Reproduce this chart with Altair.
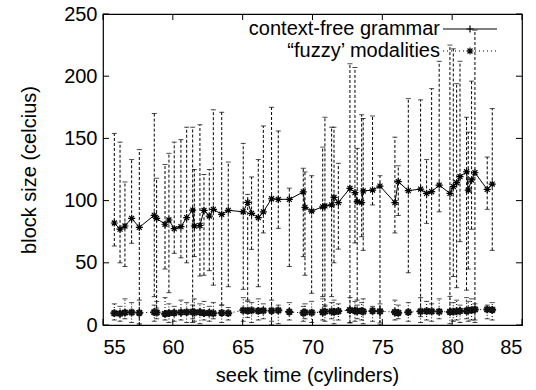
import altair as alt
import pandas as pd

# ---- data ----
x_vals = [55.81, 56.22, 56.57, 57.05, 57.6, 58.67, 58.84, 59.44, 59.72, 60.1,
          60.58, 60.99, 61.42, 61.54, 61.94, 62.23, 62.61, 62.9, 63.5, 63.97,
          65.04, 65.36, 65.64, 66.12, 66.48, 67.07, 67.55, 68.34, 69.34, 69.46,
          69.94, 70.73, 70.89, 71.37, 71.54, 71.85, 72.68, 73.04, 73.2, 73.52,
          73.63, 74.3, 74.83, 75.9, 76.14, 76.86, 77.74, 78.17, 78.53, 79.07,
          79.84, 80.08, 80.32, 80.56, 81.03, 81.15, 81.39, 81.63, 82.51, 82.87]

cfg_y = [82, 77, 79.6, 85.7, 78.5, 88.2, 85.7, 81, 84.4, 77.4,
         79, 86.3, 92.4, 79.6, 80, 92.2, 87.6, 93, 89, 92.2,
         91, 98.6, 89.8, 86.3, 91, 101.5, 101, 101, 107, 94.6,
         91.6, 95, 95.7, 96.5, 102.6, 98.4, 109.9, 106.4, 99.1, 98.4,
         107.7, 108.5, 111.7, 98.4, 115.2, 108, 109.3, 105.8, 107.2, 112.5,
         105.8, 111.2, 114.4, 119.2, 123.2, 108.5, 116.6, 122.4, 109, 113.3]
cfg_lo = [63.5, 50, 47, 65.7, 0, 22.8, 13.6, 45, 26, 57.6,
          54, 50, 2, 55, 39.4, 40, 43.7, 32, 16, 30.8,
          28.7, 20, 60.8, 30.8, 74, 0, 77.7, 47, 55, 40,
          25.5, 22.8, 15, 22.8, 50, 61, 1.6, 66, 20, 71,
          60, 96.5, 1.6, 74, 88, 42, 6.7, 81.7, 12, 91,
          12, 39, 30, 67, 28, 45, 77, 4, 93, 60]
cfg_hi = [154, 147, 115, 133, 141, 170, 118, 129, 138, 147,
          149, 159, 159, 125, 161, 121, 125, 173, 171, 131,
          146, 105, 119, 133, 160, 175, 156, 110, 126, 123,
          120, 143, 167, 159, 159, 130, 210, 207, 142, 169,
          166, 168, 120, 151, 128, 182, 181, 133, 190, 212,
          225, 222, 194, 212, 167, 155, 196, 237, 135, 174]

fz_y = [9.5, 9.2, 10, 10.2, 9.8, 10.3, 10, 9, 9.6, 9.8,
        10.2, 10.4, 10.6, 10, 10.3, 9.6, 9.8, 9.4, 9.8, 9.5,
        11.8, 11.5, 11.8, 11.3, 11.6, 11.5, 11.8, 10.5, 9.8, 10.2,
        10, 10.4, 10.8, 11, 10.5, 11.2, 12, 11.5, 11.2, 11.3,
        10.8, 11.3, 11, 10.4, 9.8, 10.3, 11, 11.2, 11, 10.8,
        10.5, 10.8, 11, 11.3, 11.4, 11.8, 12, 12.5, 12.5, 12.2]
fz_lo = [4, 3, 5, 2, 1, 3, 5, 4, 2, 3,
         4, 2, 5, 3, 1, 4, 3, 5, 2, 4,
         3, 6, 2, 4, 5, 3, 1, 4, 3, 5,
         2, 4, 3, 5, 1, 4, 2, 3, 5, 4,
         1, 3, 0, 4, 5, 3, 2, 4, 3, 5,
         1, 3, 4, 2, 5, 3, 4, 2, 5, 4]
fz_hi = [17, 15, 21, 18, 20, 16, 19, 22, 17, 15,
         20, 18, 16, 21, 17, 19, 15, 18, 16, 14,
         22, 19, 18, 21, 17, 20, 16, 18, 15, 17,
         19, 21, 16, 18, 20, 17, 22, 19, 16, 18,
         21, 15, 17, 20, 16, 18, 22, 19, 17, 21,
         23, 18, 20, 16, 22, 19, 21, 17, 16, 18]

x_ticks = [55, 60, 65, 70, 75, 80, 85]
y_ticks = [0, 50, 100, 150, 200, 250]
labels = ["context-free grammar", "\u201cfuzzy\u2019 modalities"]

# ---- chart ----
W, H = 419, 311
FONT = "Liberation Sans"
TL = 6  # inner tick length

df1 = pd.DataFrame({"x": x_vals, "y": cfg_y, "lo": cfg_lo, "hi": cfg_hi})
df2 = pd.DataFrame({"x": x_vals, "y": fz_y, "lo": fz_lo, "hi": fz_hi})
dfx = pd.DataFrame({"t": x_ticks})
dfy = pd.DataFrame({"t": y_ticks})

xs = alt.Scale(domain=[55, 85], nice=False, zero=False)
ys = alt.Scale(domain=[0, 250], nice=False)

XAX = alt.Axis(values=x_ticks, title="seek time (cylinders)", tickSize=0,
               domain=False, grid=False, labelPadding=12, titlePadding=8,
               titleX=204,
               labelFontSize=20, titleFontSize=20, labelFont=FONT,
               titleFont=FONT, titleFontWeight="normal",
               labelColor="black", titleColor="black")
YAX = alt.Axis(values=y_ticks, title="block size (celcius)", tickSize=0,
               domain=False, grid=False, labelPadding=6, titlePadding=24,
               labelFontSize=20, titleFontSize=20, labelFont=FONT,
               titleFont=FONT, titleFontWeight="normal",
               labelColor="black", titleColor="black")

ASTER = "M-1,0L1,0M0,-1L0,1M-0.7,-0.7L0.7,0.7M-0.7,0.7L0.7,-0.7"
PLUS = "M-1,0L1,0M0,-1L0,1"


def X(f):
    return alt.X(f, scale=xs, axis=XAX)


def Y(f):
    return alt.Y(f, scale=ys, axis=YAX)


# inside ticks on all four sides
tb = alt.Chart(dfx).mark_rule(color="black", strokeWidth=1).encode(
    x=X("t:Q"), y=alt.value(H), y2=alt.value(H - TL))
tt = alt.Chart(dfx).mark_rule(color="black", strokeWidth=1).encode(
    x=X("t:Q"), y=alt.value(0), y2=alt.value(TL))
tl = alt.Chart(dfy).mark_rule(color="black", strokeWidth=1).encode(
    y=Y("t:Q"), x=alt.value(0), x2=alt.value(TL))
tr = alt.Chart(dfy).mark_rule(color="black", strokeWidth=1).encode(
    y=Y("t:Q"), x=alt.value(W - TL), x2=alt.value(W))

# series 1: context-free grammar
e1 = alt.Chart(df1).mark_rule(color="black", strokeWidth=1, strokeDash=[3, 2]).encode(
    x=X("x:Q"), y=Y("lo:Q"), y2="hi:Q")
c1a = alt.Chart(df1).mark_tick(color="black", orient="horizontal", size=5, thickness=1).encode(
    x=X("x:Q"), y=Y("lo:Q"))
c1b = alt.Chart(df1).mark_tick(color="black", orient="horizontal", size=5, thickness=1).encode(
    x=X("x:Q"), y=Y("hi:Q"))
l1 = alt.Chart(df1).mark_line(color="black", strokeWidth=1).encode(x=X("x:Q"), y=Y("y:Q"))
p1 = alt.Chart(df1).mark_point(shape=ASTER, size=50, color="black", strokeWidth=1.2,
                               filled=False, opacity=1).encode(x=X("x:Q"), y=Y("y:Q"))

# series 2: fuzzy modalities
e2 = alt.Chart(df2).mark_rule(color="black", strokeWidth=1, strokeDash=[1, 2]).encode(
    x=X("x:Q"), y=Y("lo:Q"), y2="hi:Q")
c2a = alt.Chart(df2).mark_tick(color="black", orient="horizontal", size=5, thickness=1,
                               strokeDash=[1, 1]).encode(x=X("x:Q"), y=Y("lo:Q"))
c2b = alt.Chart(df2).mark_tick(color="black", orient="horizontal", size=5, thickness=1,
                               strokeDash=[1, 1]).encode(x=X("x:Q"), y=Y("hi:Q"))
l2 = alt.Chart(df2).mark_line(color="black", strokeWidth=1, strokeDash=[1, 3]).encode(
    x=X("x:Q"), y=Y("y:Q"))
p2 = alt.Chart(df2).mark_point(shape=ASTER, size=60, color="#111", strokeWidth=2,
                               filled=False, opacity=1).encode(x=X("x:Q"), y=Y("y:Q"))

# legend (gnuplot style, inside top-right)
leg_df = pd.DataFrame({"label": labels})
lt1 = alt.Chart(leg_df).transform_filter(alt.datum.label == labels[0]).mark_text(
    align="right", baseline="middle", fontSize=20, font=FONT, color="black").encode(
    text="label:N", x=alt.value(337), y=alt.value(15))
lt2 = alt.Chart(leg_df).transform_filter(alt.datum.label == labels[1]).mark_text(
    align="right", baseline="middle", fontSize=20, font=FONT, color="black").encode(
    text="label:N", x=alt.value(337), y=alt.value(37))
ll1 = alt.Chart(leg_df).transform_filter(alt.datum.label == labels[0]).mark_rule(
    color="black", strokeWidth=1).encode(x=alt.value(340), x2=alt.value(394), y=alt.value(15))
lp1 = alt.Chart(leg_df).transform_filter(alt.datum.label == labels[0]).mark_point(
    shape=PLUS, size=50, color="black", strokeWidth=1.2, opacity=1).encode(
    x=alt.value(367), y=alt.value(15))
ll2 = alt.Chart(leg_df).transform_filter(alt.datum.label == labels[1]).mark_rule(
    color="black", strokeWidth=1, strokeDash=[1, 3]).encode(
    x=alt.value(340), x2=alt.value(394), y=alt.value(37))
lp2 = alt.Chart(leg_df).transform_filter(alt.datum.label == labels[1]).mark_point(
    shape=ASTER, size=50, color="black", strokeWidth=1.2, opacity=1).encode(
    x=alt.value(367), y=alt.value(37))

chart = alt.layer(
    tb, tt, tl, tr,
    e1, c1a, c1b, e2, c2a, c2b, l2, p2, l1, p1,
    ll1, lp1, ll2, lp2, lt1, lt2,
).properties(
    width=W, height=H,
    padding={"left": 103, "top": 14, "right": 14, "bottom": 65},
    autosize=alt.AutoSizeParams(type="none"),
    background="white",
).configure_view(stroke="black", strokeWidth=1.2)

chart.save("out.html", embed_options={"renderer": "svg", "actions": False})
